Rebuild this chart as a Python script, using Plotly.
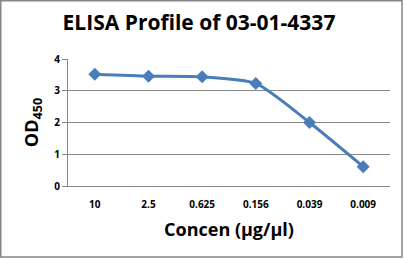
import plotly.graph_objects as go

categories = ["10", "2.5", "0.625", "0.156", "0.039", "0.009"]
od_values = [3.52, 3.46, 3.44, 3.23, 2.0, 0.61]
y_ticks = [0, 1, 2, 3, 4]

W, H = 406, 260
L, R, T, B = 68, 16, 59, 74
PW, PH = W - L - R, H - T - B

def px(x):
    return (x - L) / PW

def py(y):
    return (H - B - y) / PH

fig = go.Figure()
fig.add_trace(go.Scatter(
    x=categories, y=od_values, mode="lines+markers",
    line=dict(color="#4A7EBB", width=3, shape="spline", smoothing=0.6),
    marker=dict(symbol="diamond", size=10, color="#4A7EBB"),
    showlegend=False,
))

fig.update_layout(
    width=W, height=H,
    margin=dict(l=L, r=R, t=T, b=B),
    paper_bgcolor="white", plot_bgcolor="white",
    title=dict(text="<b>ELISA Profile of 03-01-4337</b>", x=199 / W, xanchor="center",
               y=1 - 23 / H, yanchor="middle",
               font=dict(family="Open Sans", size=21, color="black")),
    xaxis=dict(type="category", showgrid=False, showline=True, linecolor="#868686",
               linewidth=1, ticks="", ticklabelstandoff=9,
               tickfont=dict(family="Open Sans", size=10, color="black", weight="bold"),
               title=dict(text="<b>Concen (µg/µl)</b>", font=dict(family="Open Sans", size=18, color="black"), standoff=13),
               range=[-0.5, 5.5]),
    yaxis=dict(range=[0, 4], tickvals=y_ticks, showgrid=True, gridcolor="#868686", gridwidth=1,
               showline=True, linecolor="#868686", linewidth=1, ticks="outside", ticklen=5,
               tickcolor="#868686", zeroline=False,
               tickfont=dict(family="Open Sans", size=10, color="black", weight="bold"),
               title=dict(text="<b>OD<sub>450</sub></b>", font=dict(family="Open Sans", size=18, color="black"), standoff=10)),
    shapes=[dict(type="rect", xref="paper", yref="paper", x0=px(0.75), x1=px(402),
                 y0=py(257), y1=py(0.75), line=dict(color="#868686", width=1.5))],
)

fig.write_html("out.html")
